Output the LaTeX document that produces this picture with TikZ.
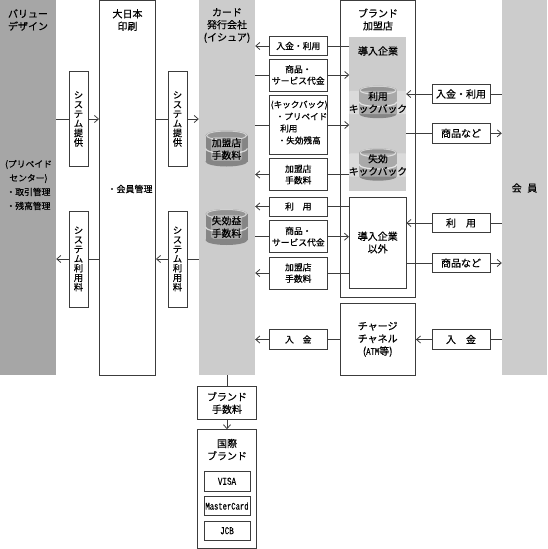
\documentclass[tikz,border=0pt]{standalone}
\usepackage{fontspec}
\setmainfont{Noto Sans CJK JP}[RawFeature={embolden=0.5}]
\newfontfamily\narrowfont[FakeStretch=0.72,RawFeature={embolden=0.5}]{Liberation Mono}
\usetikzlibrary{arrows.meta}
\definecolor{linegray}{HTML}{3C3C3C}
\definecolor{darkband}{HTML}{A6A6A6}
\definecolor{lightband}{HTML}{CCCCCC}
\tikzset{
  band/.style={fill=#1, inner sep=0pt},
  box/.style={draw=linegray, fill=white, line width=0.9pt, inner sep=0pt, align=center, font=\fontsize{8.8}{11.5}\selectfont},
  bigbox/.style={box, font=\fontsize{10}{12.5}\selectfont},
  vbox/.style={box, minimum width=19, font=\fontsize{9.3}{9.5}\selectfont},
  txt/.style={inner sep=0pt, align=center, text=black, font=\fontsize{10}{12.5}\selectfont},
  disktxt/.style={txt, font=\fontsize{9.8}{12.5}\selectfont, fill=white, fill opacity=0.3, text opacity=1, rounded corners=3pt, inner sep=1pt},
  link/.style={draw=linegray, line width=0.8pt},
  pics/disks/.style={code={
    \fill[black!48] (-21,-13) rectangle (21,13);
    \fill[black!48] (0,13) ellipse [x radius=21, y radius=5];
    \draw[black!15, line width=1.2pt] (-21,0) arc [start angle=180, end angle=0, x radius=21, y radius=5];
    \fill[black!42] (0,-13) ellipse [x radius=21, y radius=5];
    \draw[black!18, line width=1pt] (0,-13) ellipse [x radius=20, y radius=4.5];
  }}
}
\begin{document}
\begin{tikzpicture}[>={Straight Barb[length=4pt,width=7pt]}, x=1pt, y=-1pt]
  \useasboundingbox (0,0) rectangle (547,549);
  % Bands and tall boxes
  \node[band=darkband, minimum width=56, minimum height=375] (vd) at (28,187.5) {};
  \node[box, minimum width=56, minimum height=375] (dnp) at (127.5,187.5) {};
  \node[band=lightband, minimum width=56, minimum height=375] (issuer) at (227,187.5) {};
  \node[band=lightband, minimum width=45, minimum height=375] (member) at (524.5,187.5) {};
  \node[box, minimum width=75.5, minimum height=297] (store) at (377.7,148.5) {};
  \node[band=lightband, minimum width=56.5, minimum height=154] (dounyu) at (377.7,113.5) {};
  \node[bigbox, minimum width=56.5, minimum height=91] (other) at (377.7,242.5) {導入企業\\以外};
  \node[bigbox, minimum width=75.5, minimum height=72] (charge) at (377.7,339.3) {チャージ\\チャネル\\({\narrowfont ATM}等)};
  % Heads of the bands
  \node[txt] (vdname) at (28,20) {バリュー\\デザイン};
  \node[txt, font=\fontsize{8.8}{14}\selectfont] (vdtext) at (28.5,185) {\fontsize{8.8}{10.5}\selectfont(プリペイド\\\fontsize{8.8}{12}\selectfont センター)\\・取引管理\\・残高管理};
  \node[txt] (dnpname) at (127.5,20) {大日本\\印刷};
  \node[txt, font=\fontsize{9}{12}\selectfont] (dnptext) at (130,189) {・会員管理};
  \node[txt] (issuername) at (227,25.5) {カード\\発行会社\\(イシュア)};
  \node[txt] (storename) at (378,19.5) {ブランド\\加盟店};
  \node[txt] (dounyuname) at (378,51) {導入企業};
  \node[txt] (membername) at (524.5,188) {会\hspace{0.55em}員};
  % System boxes
  \node[vbox, minimum height=95] (sysA) at (78.5,119) {シ\\ス\\テ\\ム\\提\\供};
  \node[vbox, minimum height=96] (sysB) at (78.5,259) {シ\\ス\\テ\\ム\\利\\用\\料};
  \node[vbox, minimum height=95] (sysC) at (177.5,119) {シ\\ス\\テ\\ム\\提\\供};
  \node[vbox, minimum height=96] (sysD) at (177.5,259) {シ\\ス\\テ\\ム\\利\\用\\料};
  % Boxes between issuer and store
  \node[box, minimum width=57.5, minimum height=19] (payuse) at (298.3,46) {入金・利用};
  \node[box, minimum width=57.5, minimum height=32] (goodsfee) at (298.3,75) {商品・\\サービス代金};
  \node[box, minimum width=57.5, minimum height=59] (kickback) at (298.3,125) {};
  \node[box, minimum width=57.5, minimum height=32] (feeA) at (298.3,174.5) {加盟店\\手数料};
  \node[box, minimum width=57.5, minimum height=19] (useA) at (298.3,206.5) {利　用};
  \node[box, minimum width=57.5, minimum height=32] (goodsfeeB) at (298.3,236.7) {商品・\\サービス代金};
  \node[box, minimum width=57.5, minimum height=32] (feeB) at (298.3,273) {加盟店\\手数料};
  \node[box, minimum width=57.5, minimum height=19.5] (payA) at (298.3,339.5) {入　金};
  \node[txt, anchor=north west, align=left, font=\fontsize{8.6}{12}\selectfont] (kicktext) at (270.5,100.5) {(キックバック)\\\hspace*{5pt}・プリペイド\\\hspace*{9.5pt}利用\\\hspace*{7pt}・失効残高};
  % Boxes between store and member
  \node[bigbox, minimum width=58, minimum height=19.5] (payuseR) at (461,94) {入金・利用};
  \node[bigbox, minimum width=58, minimum height=19.5] (goodsR) at (461,133.3) {商品など};
  \node[bigbox, minimum width=58, minimum height=19.5] (useR) at (461,223) {利　用};
  \node[bigbox, minimum width=58, minimum height=19.5] (goodsRB) at (461,263) {商品など};
  \node[bigbox, minimum width=58, minimum height=19.5] (payR) at (461,339.5) {入　金};
  % Disks with their labels
  \pic at (226.5,148.5) {disks};
  \pic at (226.5,227) {disks};
  \pic[scale=0.9] at (378,102) {disks};
  \pic[scale=0.9] at (378,164.5) {disks};
  \node[disktxt] (diskA) at (226.5,149) {加盟店\\手数料};
  \node[disktxt] (diskB) at (226.5,227) {失効益\\手数料};
  \node[disktxt] (diskC) at (378,102.5) {利用\\キックバック};
  \node[disktxt] (diskD) at (378,165) {失効\\キックバック};
  % Brand fee and international brands
  \node[bigbox, minimum width=58.5, minimum height=32.5] (brandfee) at (227,403) {ブランド\\手数料};
  \node[box, minimum width=58.5, minimum height=118.5] (intl) at (227,489) {};
  \node[txt] (intlname) at (227,449.5) {国際\\ブランド};
  \node[box, minimum width=46, minimum height=19.5, font=\fontsize{10.5}{12}\narrowfont] (visa) at (227,481.3) {VISA};
  \node[box, minimum width=46, minimum height=19.5, font=\fontsize{10}{12}\narrowfont] (master) at (227,506) {MasterCard};
  \node[box, minimum width=46, minimum height=19.5, font=\fontsize{10.5}{12}\narrowfont] (jcb) at (227,530.7) {JCB};
  % System links
  \draw[link] (vd.east |- sysA.west) -- (sysA.west);
  \draw[link, ->] (sysA.east) -- (dnp.west |- sysA.east);
  \draw[link] (dnp.east |- sysC.west) -- (sysC.west);
  \draw[link, ->] (sysC.east) -- (issuer.west |- sysC.east);
  \draw[link] (dnp.west |- sysB.east) -- (sysB.east);
  \draw[link, ->] (sysB.west) -- (vd.east |- sysB.west);
  \draw[link] (issuer.west |- sysD.east) -- (sysD.east);
  \draw[link, ->] (sysD.west) -- (dnp.east |- sysD.west);
  % Links between issuer and store
  \draw[link] (dounyu.west |- payuse.east) -- (payuse.east);
  \draw[link, ->] (payuse.west) -- (issuer.east |- payuse.west);
  \draw[link] (issuer.east |- goodsfee.west) -- (goodsfee.west);
  \draw[link, ->] (goodsfee.east) -- (dounyu.west |- goodsfee.east);
  \draw[link] (issuer.east |- kickback.west) -- (kickback.west);
  \draw[link, ->] (kickback.east) -- (dounyu.west |- kickback.east);
  \draw[link] (dounyu.west |- feeA.east) -- (feeA.east);
  \draw[link, ->] (feeA.west) -- (issuer.east |- feeA.west);
  \draw[link] (other.west |- useA.east) -- (useA.east);
  \draw[link, ->] (useA.west) -- (issuer.east |- useA.west);
  \draw[link] (issuer.east |- goodsfeeB.west) -- (goodsfeeB.west);
  \draw[link, ->] (goodsfeeB.east) -- (other.west |- goodsfeeB.east);
  \draw[link] (other.west |- feeB.east) -- (feeB.east);
  \draw[link, ->] (feeB.west) -- (issuer.east |- feeB.west);
  \draw[link] (charge.west |- payA.east) -- (payA.east);
  \draw[link, ->] (payA.west) -- (issuer.east |- payA.west);
  % Links between store and member
  \draw[link] (member.west |- payuseR.east) -- (payuseR.east);
  \draw[link, ->] (payuseR.west) -- (dounyu.east |- payuseR.west);
  \draw[link] (dounyu.east |- goodsR.west) -- (goodsR.west);
  \draw[link, ->] (goodsR.east) -- (member.west |- goodsR.east);
  \draw[link] (member.west |- useR.east) -- (useR.east);
  \draw[link, ->] (useR.west) -- (other.east |- useR.west);
  \draw[link] (other.east |- goodsRB.west) -- (goodsRB.west);
  \draw[link, ->] (goodsRB.east) -- (member.west |- goodsRB.east);
  \draw[link] (member.west |- payR.east) -- (payR.east);
  \draw[link, ->] (payR.west) -- (charge.east |- payR.west);
  % Links down to the brands
  \draw[link] (issuer.south) -- (brandfee.north);
  \draw[link, ->] (brandfee.south) -- (intl.north);
\end{tikzpicture}
\end{document}
